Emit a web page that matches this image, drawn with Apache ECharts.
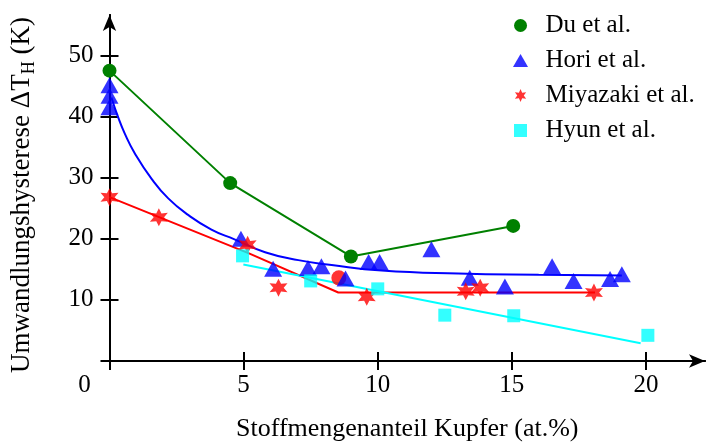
<!DOCTYPE html>
<html>
<head>
<meta charset="utf-8">
<script src="https://cdn.jsdelivr.net/npm/echarts@6/dist/echarts.min.js"></script>
<style>
  html, body { margin: 0; padding: 0; background: #fff; }
  #chart { width: 712px; height: 447px; }
</style>
</head>
<body>
<div id="chart"></div>
<script>
var xTicks = [0, 5, 10, 15, 20];
var yTicks = [0, 10, 20, 30, 40, 50];
var yLabels = [10, 20, 30, 40, 50];

var duData = [[0, 47.5], [4.5, 29.1], [9.0, 17.1], [15.05, 22.1]];
var horiData = [[0, 45.1], [0, 43.4], [0, 41.5], [4.9, 20.0], [6.1, 15.1], [7.4, 15.2],
  [7.9, 15.5], [8.8, 13.5], [9.66, 16.2], [10.07, 16.2], [12.0, 18.3], [13.43, 13.6],
  [14.74, 12.2], [16.5, 15.5], [17.3, 13.1], [18.66, 13.4], [19.1, 14.2]];
var horiFit = [[0.07, 43.1], [0.32, 39.9], [0.57, 37.2], [0.94, 34.0], [1.57, 29.8],
  [2.19, 26.6], [2.93, 23.9], [3.8, 21.5], [4.66, 19.9], [5.8, 17.8], [7.04, 16.5],
  [8.28, 15.7], [10.15, 14.8], [13, 14.3], [16, 14.1], [19.1, 14.0]];
var miyaData = [[0, 26.8], [1.84, 23.5], [5.15, 19.0], [6.3, 12.0], [9.59, 10.5],
  [13.28, 11.4], [13.82, 12.0], [18.06, 11.2]];
var miyaCircle = [[8.55, 13.6]];
var miyaFit = [[0, 26.8], [5.2, 17.6], [8.53, 11.2], [18.1, 11.2]];
var hyunData = [[4.96, 17.2], [7.5, 13.1], [10.0, 11.8], [12.5, 7.5], [15.07, 7.4], [20.07, 4.2]];
var hyunFit = [[4.99, 15.8], [19.8, 2.9]];

var starPath = 'path://M0,-10L2.5,-4.33L8.66,-5L5,0L8.66,5L2.5,4.33L0,10L-2.5,4.33L-8.66,5L-5,0L-8.66,-5L-2.5,-4.33Z';
var triPath = 'path://M0,-10L11,9L-11,9Z';
var rectPath = 'path://M0,0L10,0L10,10L0,10Z';
var font = 'serif';

var chart = echarts.init(document.getElementById('chart'), null, { renderer: 'canvas' });

var blackLine = { color: '#000', width: 2 };

var option = {
  animation: false,
  grid: { left: 108, right: 7, top: 15, bottom: 77 },
  legend: {
    orient: 'vertical', left: 508, top: 8, itemGap: 10,
    itemWidth: 40, itemHeight: 13, symbolKeepAspect: true,
    textStyle: { fontFamily: font, fontSize: 25, color: '#000' },
    data: [
      { name: 'Du et al.', icon: 'circle' },
      { name: 'Hori et al.', icon: triPath },
      { name: 'Miyazaki et al.', icon: starPath },
      { name: 'Hyun et al.', icon: rectPath }
    ]
  },
  xAxis: [
    {
      type: 'value', min: 0, max: 22.2, position: 'bottom', splitLine: { show: false },
      name: 'Stoffmengenanteil Kupfer (at.%)',
      nameLocation: 'middle', nameGap: 55,
      nameTextStyle: { fontFamily: font, fontSize: 26, color: '#000' },
      axisLine: { show: true, symbol: ['none', 'arrow'], symbolSize: [10, 16], lineStyle: blackLine },
      axisTick: { show: true, inside: false, length: 9, customValues: xTicks, lineStyle: blackLine },
      axisLabel: {
        customValues: xTicks, margin: 12, fontFamily: font, fontSize: 25, color: '#000',
        formatter: function (v) { return v === 0 ? '0\u00a0\u00a0\u00a0\u00a0\u00a0\u00a0\u00a0\u00a0' : String(v); }
      }
    },
    {
      // second axis: drawn on y = 0 by onZero, its ticks point up into the plot
      type: 'value', min: 0, max: 22.2, position: 'top', splitLine: { show: false },
      axisLine: { show: true, onZero: true, lineStyle: blackLine },
      axisTick: { show: true, inside: false, length: 9, customValues: xTicks, lineStyle: blackLine },
      axisLabel: { show: false }
    }
  ],
  yAxis: [
    {
      type: 'value', min: 0, max: 56.6, position: 'left', splitLine: { show: false },
      name: '{a|Umwandlungshysterese ΔT}{s|H}{a| (K)}',
      nameLocation: 'middle', nameGap: 71, nameRotate: 90,
      nameTextStyle: {
        padding: [0, 14, 0, 0],
        rich: {
          a: { fontFamily: font, fontSize: 27, color: '#000', lineHeight: 34 },
          s: { fontFamily: font, fontSize: 18, color: '#000', lineHeight: 34, verticalAlign: 'bottom' }
        }
      },
      axisLine: { show: true, symbol: ['none', 'arrow'], symbolSize: [10, 16], lineStyle: blackLine },
      axisTick: { show: true, inside: false, length: 9, customValues: yTicks, lineStyle: blackLine },
      axisLabel: { customValues: yLabels, margin: 16, fontFamily: font, fontSize: 25, color: '#000' }
    },
    {
      type: 'value', min: 0, max: 56.6, position: 'right', splitLine: { show: false },
      axisLine: { show: true, onZero: true, lineStyle: blackLine },
      axisTick: { show: true, inside: false, length: 9, customValues: yTicks, lineStyle: blackLine },
      axisLabel: { show: false }
    }
  ],
  series: [
    { name: 'Hori Fit', type: 'line', xAxisIndex: 1, yAxisIndex: 1, data: horiFit, smooth: true,
      showSymbol: false, symbol: 'none', lineStyle: { color: '#0000ff', width: 2 }, z: 2 },
    { name: 'Miyazaki Fit', type: 'line', xAxisIndex: 1, yAxisIndex: 1, data: miyaFit,
      showSymbol: false, symbol: 'none', lineStyle: { color: '#ff0000', width: 2 }, z: 2 },
    { name: 'Hyun Fit', type: 'line', xAxisIndex: 1, yAxisIndex: 1, data: hyunFit,
      showSymbol: false, symbol: 'none', lineStyle: { color: '#00ffff', width: 2 }, z: 2 },
    { name: 'Du et al.', type: 'line', data: duData, symbol: 'circle', symbolSize: 14,
      itemStyle: { color: '#008000' }, lineStyle: { color: '#008000', width: 2 }, z: 3 },
    { name: 'Miyazaki Kreis', type: 'scatter', data: miyaCircle, symbol: 'circle', symbolSize: 15,
      itemStyle: { color: '#ff0000' }, z: 3 },
    { name: 'Hori et al.', type: 'scatter', data: horiData, symbol: 'triangle', symbolSize: [18, 16],
      itemStyle: { color: '#0000ff' }, z: 4 },
    { name: 'Miyazaki et al.', type: 'scatter', data: miyaData, symbol: starPath, symbolSize: 18,
      itemStyle: { color: '#ff0000' }, z: 5 },
    { name: 'Hyun et al.', type: 'scatter', data: hyunData, symbol: 'rect', symbolSize: 13,
      itemStyle: { color: '#00ffff' }, z: 6 }
  ]
};

chart.setOption(option);
window.addEventListener('resize', chart.resize);
</script>
</body>
</html>
